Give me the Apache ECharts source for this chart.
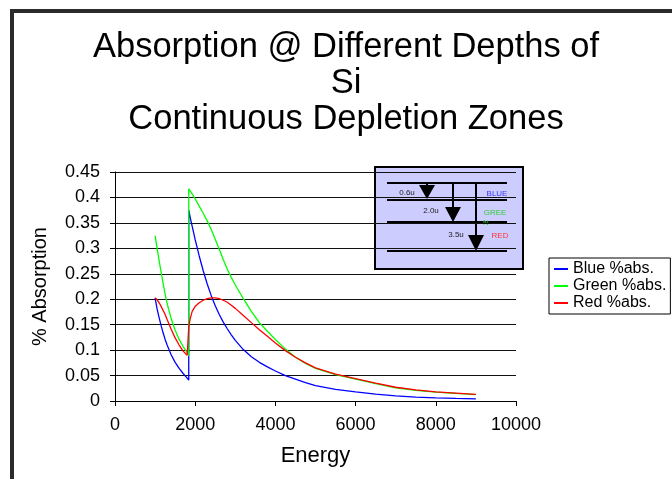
<!DOCTYPE html>
<html>
<head>
<meta charset="utf-8">
<script src="https://cdn.jsdelivr.net/npm/echarts@6/dist/echarts.min.js"></script>
<style>
  html, body { margin: 0; padding: 0; background: #fff; }
  #chart { width: 672px; height: 479px; }
</style>
</head>
<body>
<div id="chart"></div>
<script>
// Photon energy (eV); 1839 appears twice to draw the Si K-edge step.
const energy = [1000, 1050, 1100, 1150, 1200, 1250, 1300, 1400, 1500, 1600, 1700, 1800, 1839,
                1839, 1875, 1925, 2000, 2100, 2200, 2300, 2400, 2500, 2600, 2700, 2800, 2900,
                3000, 3200, 3400, 3600, 3800, 4000, 4250, 4500, 4750, 5000,
                5500, 6000, 6500, 7000, 7500, 8000, 8500, 9000];

// Fraction absorbed in each depletion zone
const blueAbs = [0.202, 0.181, 0.164, 0.148, 0.134, 0.121, 0.110, 0.091, 0.076, 0.064, 0.054, 0.045, 0.041,
                 0.375, 0.361, 0.343, 0.317, 0.285, 0.256, 0.230, 0.207, 0.187, 0.170, 0.155, 0.142, 0.130,
                 0.119, 0.101, 0.087, 0.076, 0.067, 0.059, 0.050, 0.043, 0.036, 0.030,
                 0.023, 0.018, 0.0135, 0.010, 0.0078, 0.0062, 0.005, 0.004];

const greenAbs = [0.325, 0.300, 0.276, 0.253, 0.231, 0.210, 0.192, 0.162, 0.139, 0.121, 0.107, 0.095, 0.089,
                  0.417, 0.413, 0.407, 0.397, 0.383, 0.369, 0.354, 0.337, 0.318, 0.298, 0.278, 0.259, 0.243,
                  0.228, 0.201, 0.176, 0.154, 0.137, 0.121, 0.102, 0.086, 0.074, 0.064,
                  0.052, 0.043, 0.034, 0.026, 0.021, 0.0175, 0.0148, 0.0125];

const redAbs = [0.203, 0.199, 0.193, 0.186, 0.178, 0.170, 0.160, 0.141, 0.124, 0.110, 0.098, 0.090, 0.087,
                0.145, 0.162, 0.176, 0.186, 0.193, 0.198, 0.201, 0.2025, 0.2025, 0.201, 0.198, 0.194, 0.188,
                0.182, 0.168, 0.154, 0.140, 0.127, 0.114, 0.099, 0.086, 0.075, 0.065,
                0.053, 0.044, 0.035, 0.027, 0.022, 0.018, 0.0155, 0.013];

const seriesNames = ['Blue %abs.', 'Green %abs.', 'Red %abs.'];
const seriesColors = ['#0000ff', '#00ff00', '#ff0000'];
const seriesValues = [blueAbs, greenAbs, redAbs];

const titleLines = ['Absorption @ Different Depths of', 'Si', 'Continuous Depletion Zones'];

const FONT = "'Liberation Sans', Arial, Helvetica, sans-serif";

const chart = echarts.init(document.getElementById('chart'), null, { renderer: 'canvas' });

// Depth diagram: layer boundaries and arrows for each depletion zone
const insetGraphics = [
  { type: 'rect', shape: { x: 375, y: 167, width: 148, height: 102 },
    style: { fill: '#ccccff', stroke: '#000', lineWidth: 2 } },
  { type: 'line', shape: { x1: 387, y1: 183, x2: 507, y2: 183 }, style: { stroke: '#000', lineWidth: 2 } },
  { type: 'line', shape: { x1: 387, y1: 200, x2: 507, y2: 200 }, style: { stroke: '#000', lineWidth: 2 } },
  { type: 'line', shape: { x1: 387, y1: 222, x2: 507, y2: 222 }, style: { stroke: '#000', lineWidth: 2 } },
  { type: 'line', shape: { x1: 387, y1: 251, x2: 507, y2: 251 }, style: { stroke: '#000', lineWidth: 2 } },
  { type: 'line', shape: { x1: 427, y1: 183, x2: 427, y2: 186 }, style: { stroke: '#000', lineWidth: 2 } },
  { type: 'polygon', shape: { points: [[419, 185], [435, 185], [427, 199]] }, style: { fill: '#000' } },
  { type: 'line', shape: { x1: 453, y1: 183, x2: 453, y2: 208 }, style: { stroke: '#000', lineWidth: 2 } },
  { type: 'polygon', shape: { points: [[445, 207], [461, 207], [453, 222]] }, style: { fill: '#000' } },
  { type: 'line', shape: { x1: 476, y1: 183, x2: 476, y2: 236 }, style: { stroke: '#000', lineWidth: 2 } },
  { type: 'polygon', shape: { points: [[468, 235], [484, 235], [476, 251]] }, style: { fill: '#000' } },
  { type: 'text', style: { x: 407, y: 193, text: '0.6u', fill: '#222', font: '8px ' + FONT, align: 'center', verticalAlign: 'middle' } },
  { type: 'text', style: { x: 431, y: 211, text: '2.0u', fill: '#222', font: '8px ' + FONT, align: 'center', verticalAlign: 'middle' } },
  { type: 'text', style: { x: 456, y: 235, text: '3.5u', fill: '#222', font: '8px ' + FONT, align: 'center', verticalAlign: 'middle' } },
  { type: 'text', style: { x: 497, y: 194, text: 'BLUE', fill: '#3333ff', font: '8px ' + FONT, align: 'center', verticalAlign: 'middle' } },
  { type: 'text', style: { x: 495, y: 213, text: 'GREE', fill: '#33cc33', font: '8px ' + FONT, align: 'center', verticalAlign: 'middle' } },
  { type: 'text', style: { x: 486, y: 223, text: 'N', fill: '#33cc33', font: '8px ' + FONT, align: 'center', verticalAlign: 'middle' } },
  { type: 'text', style: { x: 500, y: 236, text: 'RED', fill: '#ff3333', font: '8px ' + FONT, align: 'center', verticalAlign: 'middle' } }
];

const option = {
  animation: false,
  backgroundColor: '#fff',
  title: {
    text: titleLines.join('\n'),
    left: 341,
    top: 24,
    textAlign: 'center',
    textStyle: { fontFamily: FONT, fontSize: 34.5, fontWeight: 'normal', color: '#000', lineHeight: 36 }
  },
  legend: {
    data: seriesNames,
    orient: 'vertical',
    left: 549,
    top: 258,
    padding: [3, 4, 3, 5],
    itemGap: 1,
    itemWidth: 14,
    itemHeight: 2,
    icon: 'rect',
    borderColor: '#000',
    borderWidth: 1,
    backgroundColor: '#fff',
    textStyle: { fontFamily: FONT, fontSize: 16, color: '#000', lineHeight: 16 }
  },
  grid: { left: 115, right: 156, top: 172, bottom: 78, containLabel: false },
  xAxis: {
    type: 'value',
    min: 0, max: 10000, interval: 2000,
    name: 'Energy',
    nameLocation: 'middle',
    nameGap: 44,
    nameTextStyle: { fontFamily: FONT, fontSize: 22, color: '#000' },
    axisLine: { show: true, lineStyle: { color: '#000', width: 1 } },
    axisTick: { show: true, inside: false, length: 5, lineStyle: { color: '#000' } },
    axisLabel: { fontFamily: FONT, fontSize: 18, color: '#000', margin: 15,
                 formatter: v => String(v) },
    splitLine: { show: false }
  },
  yAxis: {
    type: 'value',
    min: 0, max: 0.45, interval: 0.05,
    name: '% Absorption',
    nameLocation: 'middle',
    nameGap: 65,
    nameRotate: 90,
    nameTextStyle: { fontFamily: FONT, fontSize: 20, color: '#000' },
    axisLine: { show: true, lineStyle: { color: '#000', width: 1 } },
    axisTick: { show: true, inside: false, length: 5, lineStyle: { color: '#000' } },
    axisLabel: { fontFamily: FONT, fontSize: 18, color: '#000', margin: 15,
                 formatter: v => String(+v.toFixed(2)) },
    splitLine: { show: true, lineStyle: { color: '#111', width: 1 } }
  },
  series: seriesNames.map((name, k) => ({
    name: name,
    type: 'line',
    data: energy.map((e, i) => [e, seriesValues[k][i]]),
    showSymbol: false,
    symbol: 'none',
    smooth: false,
    lineStyle: { color: seriesColors[k], width: 1.3 },
    itemStyle: { color: seriesColors[k] },
    z: 2 + k
  })),
  graphic: [
    { type: 'rect', silent: true, z: 100,
      shape: { x: 12, y: 11, width: 1000, height: 1000 },
      style: { fill: 'none', stroke: '#2b2b2b', lineWidth: 4 } },
    { type: 'group', silent: true, z: 50, children: insetGraphics }
  ]
};

chart.setOption(option);
</script>
</body>
</html>
